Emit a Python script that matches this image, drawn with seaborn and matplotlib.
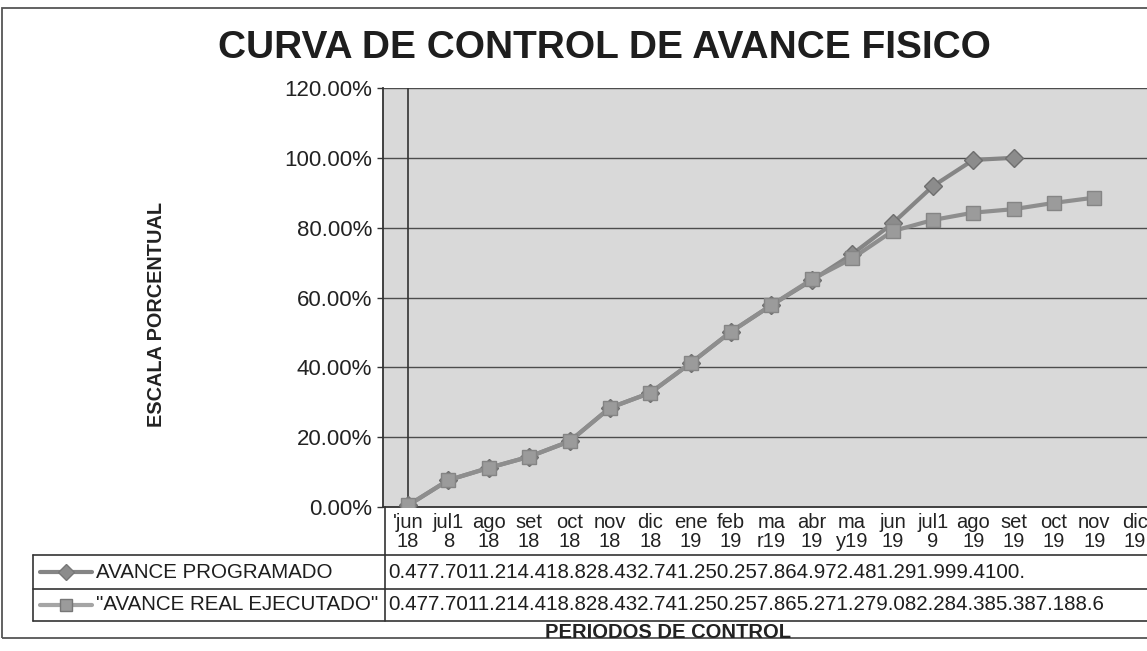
import numpy as np
import pandas as pd
import matplotlib
matplotlib.use("Agg")
import matplotlib.pyplot as plt
import seaborn as sns
from matplotlib.lines import Line2D
from matplotlib.patches import Rectangle

# Data
periodos = ["'jun\n18", "jul1\n8", "ago\n18", "set\n18", "oct\n18", "nov\n18", "dic\n18",
            "ene\n19", "feb\n19", "ma\nr19", "abr\n19", "ma\ny19", "jun\n19", "jul1\n9",
            "ago\n19", "set\n19", "oct\n19", "nov\n19", "dic\n19"]
programado = [0.47, 7.70, 11.2, 14.4, 18.8, 28.4, 32.7, 41.2, 50.2, 57.8, 64.9, 72.4,
              81.2, 91.9, 99.4, 100.0]
real = [0.47, 7.70, 11.2, 14.4, 18.8, 28.4, 32.7, 41.2, 50.2, 57.8, 65.2, 71.2,
        79.0, 82.2, 84.3, 85.3, 87.1, 88.6]
y_ticks = [0, 20, 40, 60, 80, 100, 120]


def fmt_cell(v):
    # excel "General" squeezed into narrow cells
    if v < 10:
        return f"{v:.2f}"
    if v < 100:
        return f"{v:.1f}"
    return f"{v:.0f}."


sns.set_style("white")
plt.rcParams["font.family"] = ["Liberation Sans", "DejaVu Sans"]

W, H = 1147, 651
fig = plt.figure(figsize=(W / 100, H / 100), dpi=100)
fig.patch.set_facecolor("white")


def fx(px):
    return px / W


def fy(py):
    return 1 - py / H


ax = fig.add_axes([fx(383), fy(507), fx(772), (507 - 88) / H])
ax.set_facecolor("#d9d9d9")

df_prog = pd.DataFrame({"x": np.arange(len(programado)), "y": programado})
df_real = pd.DataFrame({"x": np.arange(len(real)), "y": real})

sns.lineplot(data=df_prog, x="x", y="y", ax=ax, color="#858585", lw=3,
             marker="D", markersize=9, markerfacecolor="#8c8c8c",
             markeredgecolor="#6e6e6e", markeredgewidth=1, zorder=3)
sns.lineplot(data=df_real, x="x", y="y", ax=ax, color="#8e8e8e", lw=3,
             marker="s", markersize=10.5, markerfacecolor="#9b9b9b",
             markeredgecolor="#858585", markeredgewidth=1, zorder=4)

ax.set_xlim(-0.62, 18.5)
ax.set_ylim(0, 120)
ax.set_yticks(y_ticks)
ax.set_yticklabels([f"{v:.2f}%" for v in y_ticks], fontsize=16, color="#222")
ax.set_xticks(np.arange(len(periodos)))
ax.set_xticklabels(periodos, fontsize=14.5, color="#222", linespacing=1.05)
ax.tick_params(axis="x", length=0, pad=4)
ax.tick_params(axis="y", length=4.5, width=1, color="#333", direction="out", pad=3.5, left=True)

for v in y_ticks[1:]:
    ax.axhline(v, color="#4d4d4d", lw=1, zorder=1)
ax.axvline(0, color="#333", lw=1.2, zorder=2)

for s in ["top", "right"]:
    ax.spines[s].set_visible(False)
ax.spines["left"].set_color("#333")
ax.spines["bottom"].set_color("#333")
ax.spines["left"].set_linewidth(1.3)
ax.spines["bottom"].set_linewidth(1.3)

ax.set_xlabel("")
ax.set_ylabel("ESCALA PORCENTUAL", fontsize=14.3, fontweight="bold", color="#222")
ax.yaxis.set_label_coords(-0.281, 0.46)

fig.text(fx(604), fy(48), "CURVA DE CONTROL DE AVANCE FISICO", fontsize=28,
         fontweight="bold", color="#1e1e1e", ha="center", va="center")

# data table under the axis
line_kw = dict(color="#333", lw=1.2, transform=fig.transFigure)
for yy in [555, 589, 621]:
    fig.add_artist(Line2D([fx(33), 1], [fy(yy), fy(yy)], **line_kw))
fig.add_artist(Line2D([fx(33), fx(33)], [fy(555), fy(621)], **line_kw))
fig.add_artist(Line2D([fx(385), fx(385)], [fy(507), fy(621)], **line_kw))

rows = [("AVANCE PROGRAMADO", programado, "D", 8, "#8c8c8c", "#858585"),
        ('"AVANCE REAL EJECUTADO"', real, "s", 9, "#9b9b9b", "#a5a5a5")]
for i, (name, vals, mk, ms, mcol, lcol) in enumerate(rows):
    yc = fy(572 + i * 33)
    fig.add_artist(Line2D([fx(40), fx(92)], [yc, yc], color=lcol, lw=3,
                          transform=fig.transFigure))
    fig.add_artist(Line2D([fx(66)], [yc], marker=mk, markersize=ms, color=mcol,
                          markeredgecolor="#777", transform=fig.transFigure))
    fig.text(fx(96), yc, name, fontsize=14.8, color="#1e1e1e", ha="left", va="center")
    fig.text(fx(388), yc, "".join(fmt_cell(v) for v in vals), fontsize=14.8,
             color="#1e1e1e", ha="left", va="center")

fig.text(fx(668), fy(632), "PERIODOS DE CONTROL", fontsize=14.5, fontweight="bold",
         color="#222", ha="center", va="center")

# outer chart border
fig.add_artist(Rectangle((fx(2), fy(638)), 1.0, (638 - 8) / H, fill=False,
                         edgecolor="#555", lw=1.3, transform=fig.transFigure))

fig.savefig("out.png", dpi=100)
